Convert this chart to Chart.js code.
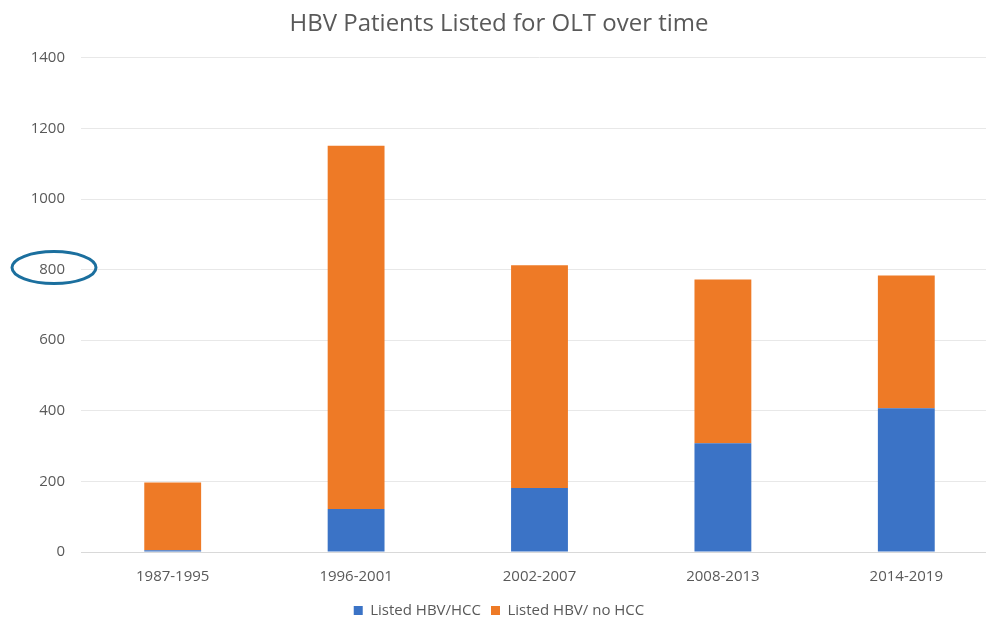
<!DOCTYPE html>
<html lang="en">
<head>
    <meta charset="UTF-8">
    <title>HBV Patients Listed for OLT over time</title>
    <script src="https://cdn.jsdelivr.net/npm/chart.js"></script>
    <style>
        html, body { margin: 0; padding: 0; background: #fff; overflow: hidden; }
        .chart-box { position: relative; width: 1000px; height: 622px; }
    </style>
</head>
<body>
    <div class="chart-box">
        <canvas id="olt"></canvas>
    </div>
    <script>
        const periods = ["1987-1995", "1996-2001", "2002-2007", "2008-2013", "2014-2019"];
        const withHcc = [5, 122, 181, 308, 407];      // Listed HBV/HCC
        const withoutHcc = [192, 1029, 631, 464, 376]; // Listed HBV/ no HCC
        const yTicks = [0, 200, 400, 600, 800, 1000, 1200, 1400];

        // circle drawn round the 800 tick label
        const tickRing = {
            id: "tickRing",
            afterDraw(chart) {
                const ctx = chart.ctx;
                const y = chart.scales.y.getPixelForValue(800);
                ctx.save();
                ctx.strokeStyle = "#1b6f9e";
                ctx.lineWidth = 3;
                ctx.beginPath();
                ctx.ellipse(54, y - 2, 42, 16, 0, 0, Math.PI * 2);
                ctx.stroke();
                ctx.restore();
            }
        };

        // keep the wide gap between legend items but trim the legend's height
        const tightLegend = {
            id: "tightLegend",
            afterInit(chart) {
                const lg = chart.legend;
                if (!lg) return;
                const fit = lg.fit.bind(lg);
                lg.fit = function () {
                    fit();
                    this.height -= 6;
                };
            }
        };

        const textFont = { family: "Open Sans", size: 15 };

        new Chart(document.getElementById("olt"), {
            type: "bar",
            data: {
                labels: periods,
                datasets: [
                    {
                        label: "Listed HBV/HCC",
                        data: withHcc,
                        backgroundColor: "#3b73c6",
                        categoryPercentage: 1,
                        barPercentage: 0.31
                    },
                    {
                        label: "Listed HBV/ no HCC",
                        data: withoutHcc,
                        backgroundColor: "#ee7a26",
                        categoryPercentage: 1,
                        barPercentage: 0.31
                    }
                ]
            },
            options: {
                responsive: true,
                maintainAspectRatio: false,
                animation: false,
                layout: { padding: { left: 0, right: 2, top: 6, bottom: 0 } },
                plugins: {
                    title: {
                        display: true,
                        text: "HBV Patients Listed for OLT over time",
                        color: "#595959",
                        font: { family: "Open Sans", size: 24, weight: "normal" },
                        padding: { top: 4, bottom: 19 }
                    },
                    legend: {
                        position: "bottom",
                        labels: {
                            color: "#595959",
                            font: textFont,
                            boxWidth: 9,
                            boxHeight: 9,
                            padding: 10
                        }
                    },
                    tooltip: { enabled: false }
                },
                scales: {
                    x: {
                        stacked: true,
                        grid: { display: false },
                        border: { color: "#d9d9d9" },
                        ticks: {
                            color: "#595959",
                            font: textFont,
                            padding: 7.5
                        }
                    },
                    y: {
                        stacked: true,
                        min: 0,
                        max: 1400,
                        afterBuildTicks(scale) {
                            scale.ticks = yTicks.map(v => ({ value: v }));
                        },
                        afterFit(scale) { scale.width = 81; },
                        grid: { color: "#e8e8e8", drawTicks: false },
                        border: { display: false },
                        ticks: {
                            color: "#595959",
                            font: textFont,
                            padding: 16,
                            callback: v => String(v)
                        }
                    }
                }
            },
            plugins: [tickRing, tightLegend]
        });
    </script>
</body>
</html>
